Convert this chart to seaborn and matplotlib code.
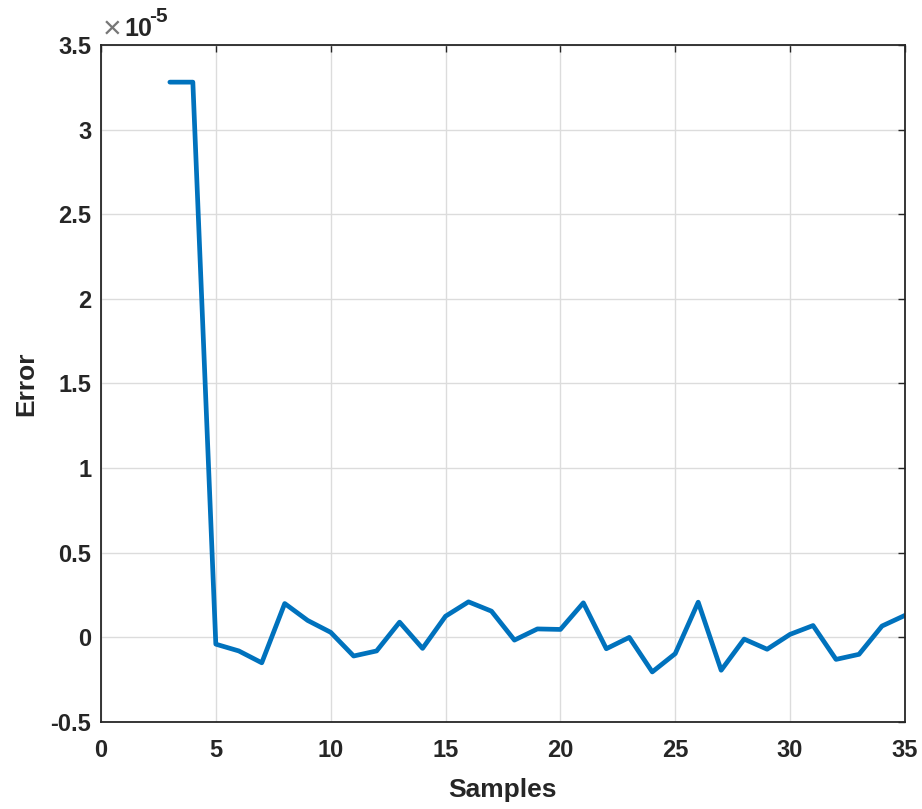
import matplotlib
matplotlib.use("Agg")
import matplotlib.pyplot as plt
import seaborn as sns
import pandas as pd
from matplotlib.ticker import FuncFormatter, MultipleLocator

samples = list(range(3, 36))
error_e5 = [3.28, 3.28, -0.04, -0.08, -0.15, 0.20, 0.10, 0.03, -0.11, -0.08,
            0.09, -0.065, 0.125, 0.21, 0.155, -0.016, 0.05, 0.047, 0.204,
            -0.067, 0.0, -0.204, -0.096, 0.208, -0.194, -0.01, -0.07, 0.018,
            0.07, -0.13, -0.10, 0.067, 0.13]

df = pd.DataFrame({"Samples": samples, "Error": error_e5})

sns.set_style("white")
plt.rcParams['font.family'] = ['Liberation Sans', 'DejaVu Sans']

fig = plt.figure(figsize=(9.22, 8.09), dpi=100)
ax = fig.add_axes([0.1095, 0.1075, 0.872, 0.837])
sns.lineplot(data=df, x="Samples", y="Error", ax=ax, color="#0072BD", linewidth=3.4)

ax.set_xlim(0, 35)
ax.set_ylim(-0.5, 3.5)
ax.xaxis.set_major_locator(MultipleLocator(5))
ax.yaxis.set_major_locator(MultipleLocator(0.5))
ax.yaxis.set_major_formatter(FuncFormatter(lambda v, p: f"{v:g}"))
ax.grid(True, color="#dcdcdc", linewidth=1.0)
ax.set_axisbelow(True)
for s in ax.spines.values():
    s.set_color("#262626")
    s.set_linewidth(1.3)
ax.tick_params(direction="in", top=True, right=True, length=5, width=1.0,
               color="#262626", labelsize=17, pad=7)
ax.tick_params(axis="x", pad=12)
for lab in ax.get_xticklabels() + ax.get_yticklabels():
    lab.set_fontweight("bold")
ax.set_xlabel("Samples", fontsize=19, fontweight="bold", labelpad=12)
ax.set_ylabel("Error", fontsize=19, fontweight="bold", labelpad=9)
fig.text(103 / 922, 1 - 38 / 809, "\u00d7", fontsize=23, color="#777777",
         ha="left", va="baseline")
fig.text(124 / 922, 1 - 36 / 809, "10", fontsize=18, fontweight="bold",
         color="#262626", ha="left", va="baseline")
fig.text(149 / 922, 1 - 22 / 809, "-5", fontsize=15, fontweight="bold",
         color="#262626", ha="left", va="baseline")

fig.savefig("out.png", dpi=100)
